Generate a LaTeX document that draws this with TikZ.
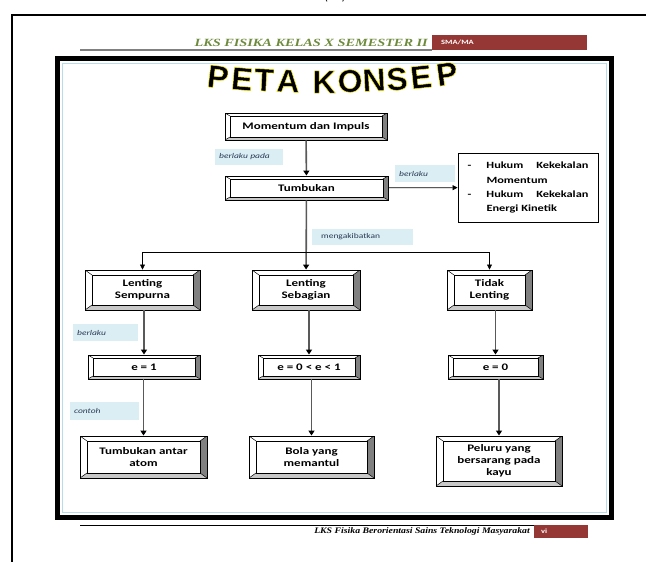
\documentclass[tikz,border=0pt]{standalone}
\usepackage{fontspec}
\setmainfont{Carlito}
\newfontfamily\boxfont[FakeStretch=1.3]{Carlito}
\newfontfamily\titlefont[BoldFeatures={FakeBold=1.5}]{Liberation Sans}
\newfontfamily\headfont[FakeStretch=1.3]{Liberation Serif}
\newfontfamily\footfont[FakeStretch=1.15]{Liberation Serif}
\usepackage{xcolor}
\usepackage{tikz}
\usetikzlibrary{arrows.meta, positioning, calc}

\definecolor{redbar}{HTML}{953735}
\definecolor{lblue}{HTML}{DBEEF4}
\definecolor{frameblue}{HTML}{B7DEE8}
\definecolor{bevdark}{HTML}{808080}
\definecolor{bevlight}{HTML}{C8C8C8}
\definecolor{headgreen}{HTML}{6E8B3D}
\definecolor{lbltext}{HTML}{2B3A55}

% yellow outlined letters
\newcommand{\glowchar}[1]{\special{pdf:literal direct 2 Tr 1.6 w 1 0.95 0 RG}#1\special{pdf:literal direct 0 Tr}}

\begin{document}
\begin{tikzpicture}[x=1pt, y=-1pt,
    bevel/.style 2 args={draw, line width=0.9pt, fill=white, align=center, inner sep=0pt,
        font=\boxfont\bfseries\fontsize{10}{12}\selectfont,
        path picture={
            \coordinate (bl) at (path picture bounding box.south west);
            \coordinate (br) at (path picture bounding box.south east);
            \coordinate (tr) at (path picture bounding box.north east);
            \coordinate (tl) at (path picture bounding box.north west);
            \coordinate (ibl) at ($(bl)+(#1pt,#2pt)$);
            \coordinate (ibr) at ($(br)+(-#1pt,#2pt)$);
            \coordinate (itr) at ($(tr)+(-#1pt,-#2pt)$);
            \coordinate (itl) at ($(tl)+(#1pt,-#2pt)$);
            \fill[bevdark] (tr) -- (br) -- (ibr) -- (itr) -- cycle;
            \fill[bevlight] (bl) -- (br) -- (ibr) -- (ibl) -- cycle;
            \draw[line width=0.6pt] (ibl) rectangle (itr);
            \draw[line width=0.5pt] (bl) -- (ibl) (br) -- (ibr) (tr) -- (itr) (tl) -- (itl);
        }},
    smallbox/.style={bevel={5}{3}},
    bigbox/.style={bevel={7}{5}},
    lbl/.style={fill=lblue, anchor=west, inner xsep=4pt, inner ysep=0pt, text width=#1-8pt,
        align=left, minimum height=16pt, text=lbltext,
        font=\boxfont\itshape\fontsize{7.3}{8}\selectfont},
    flow/.style={draw=gray!70!black, line width=1.6pt, -{Triangle[length=5pt, width=6pt, color=black]}},
    link/.style={draw=black, line width=0.7pt},
    linkarrow/.style={link, -{Triangle[length=5pt, width=5pt]}},
    titlechar/.style={font=\titlefont\bfseries\fontsize{32}{32}\selectfont, inner sep=0pt}
]
\useasboundingbox (0,0) rectangle (646,562);
\fill[white] (0,0) rectangle (646,562);

% page frame and header
\node[font=\rmfamily\fontsize{12}{12}\selectfont, anchor=base] (paren) at (335,1) {(\hspace{14pt})};
\draw[line width=1.6pt] (12,562) -- (12,15) -- (646,15);
\draw[gray, line width=1.5pt] (80,50) -- (432,50);
\fill[redbar] (432,35) rectangle (587,50);
\node[anchor=west, text=white, inner sep=0pt, font=\boxfont\bfseries\fontsize{6.5}{7}\selectfont] (sma) at (441,42.5) {SMA/MA};
\node[anchor=east, inner sep=0pt, text=headgreen, font=\headfont\bfseries\itshape\fontsize{11}{11}\selectfont] (head) at (428,43) {LKS FISIKA KELAS X SEMESTER II};

% inner frame
\draw[line width=5pt] (57.5,58.5) rectangle (611,517);
\draw[frameblue, line width=1pt] (62,63) rectangle (606.5,512.5);

% title
\foreach \ch/\px/\py/\rot [count=\i] in {P/218/77/-7, E/242/79/-5, T/264/80/-3, A/288/81/-2,
    K/324/82/0, O/350/81/1, N/374/80/3, S/397/79/4, E/421/77/6, P/447/74/8}
    \node[titlechar, rotate=\rot] (ttl\i) at (\px,\py) {\glowchar{\ch}};

% concept boxes
\node[smallbox, minimum width=162pt, minimum height=27pt] (momen) at (306,126.5) {Momentum dan Impuls};
\node[smallbox, minimum width=163pt, minimum height=24pt] (tumb) at (306.5,188) {Tumbukan};
\node[draw, line width=0.9pt, fill=white, minimum width=140pt, minimum height=69pt, inner sep=0pt,
    font=\boxfont\bfseries\fontsize{9.5}{14.3}\selectfont] (hukum) at (528,187.5)
    {\begin{tabular}{@{}p{19pt}@{}p{102pt}@{}}
     - & Hukum\hfill Kekekalan\\
       & Momentum\\
     - & Hukum\hfill Kekekalan\\
       & Energi Kinetik
     \end{tabular}};

\node[bigbox, minimum width=115pt, minimum height=40pt] (sempurna) at (142.5,290) {Lenting\\Sempurna};
\node[bigbox, minimum width=108pt, minimum height=40pt] (sebag) at (306,290) {Lenting\\Sebagian};
\node[bigbox, minimum width=85pt, minimum height=40pt] (tidak) at (489.5,290) {Tidak\\Lenting};

\node[smallbox, minimum width=112pt, minimum height=24pt] (eone) at (144,367) {e = 1};
\node[smallbox, minimum width=102pt, minimum height=24pt] (emid) at (309,367) {e = 0 < e < 1};
\node[smallbox, minimum width=95pt, minimum height=24pt] (ezero) at (495.5,367) {e = 0};

\node[bigbox, minimum width=127pt, minimum height=42pt] (atom) at (143.5,457) {Tumbukan antar\\atom};
\node[bigbox, minimum width=125pt, minimum height=42pt] (bola) at (311.5,457) {Bola yang\\memantul};
\node[bigbox, minimum width=126pt, minimum height=50pt] (peluru) at (499,461) {Peluru yang\\bersarang pada\\kayu};

% link labels
\node[lbl=68pt] (lblpada) at (215,157) {berlaku pada};
\node[lbl=60pt, minimum height=17pt] (lblhukum) at (395,173.5) {berlaku};
\node[lbl=91pt, font=\boxfont\fontsize{7.3}{8}\selectfont, inner xsep=9pt] (lblakibat) at (312,237) {mengakibatkan};
\node[lbl=65pt, minimum height=17pt] (lbleone) at (73,332.5) {berlaku};
\node[lbl=69pt, minimum height=18pt] (lblcontoh) at (70,411) {contoh};

% connectors
\coordinate (split) at (306.5,252);
\draw[flow] (momen) -- (tumb);
\draw[linkarrow] (tumb) -- (hukum);
\draw[flow] (tumb) -- (sebag);
\draw[linkarrow] (split) -| (sempurna);
\draw[linkarrow] (split) -| (tidak);
\draw[flow] (sempurna.south -| eone.north) -- (eone.north);
\draw[flow] (sebag.south -| emid.north) -- (emid.north);
\draw[flow] (tidak.south -| ezero.north) -- (ezero.north);
\draw[flow] (eone.south -| atom.north) -- (atom.north);
\draw[flow] (emid.south -| bola.north) -- (bola.north);
\draw[flow] (ezero.south -| peluru.north) -- (peluru.north);

% footer
\draw[line width=0.8pt] (80,525) -- (534,525);
\fill[redbar] (534,525) rectangle (588,538);
\node[anchor=west, text=white, inner sep=0pt, font=\boxfont\bfseries\fontsize{6.5}{7}\selectfont] (pageno) at (541,531.5) {vi};
\node[anchor=east, inner sep=0pt, font=\footfont\bfseries\itshape\fontsize{8.5}{9}\selectfont] (foot) at (530,531) {LKS Fisika Berorientasi Sains Teknologi Masyarakat};
\end{tikzpicture}
\end{document}
